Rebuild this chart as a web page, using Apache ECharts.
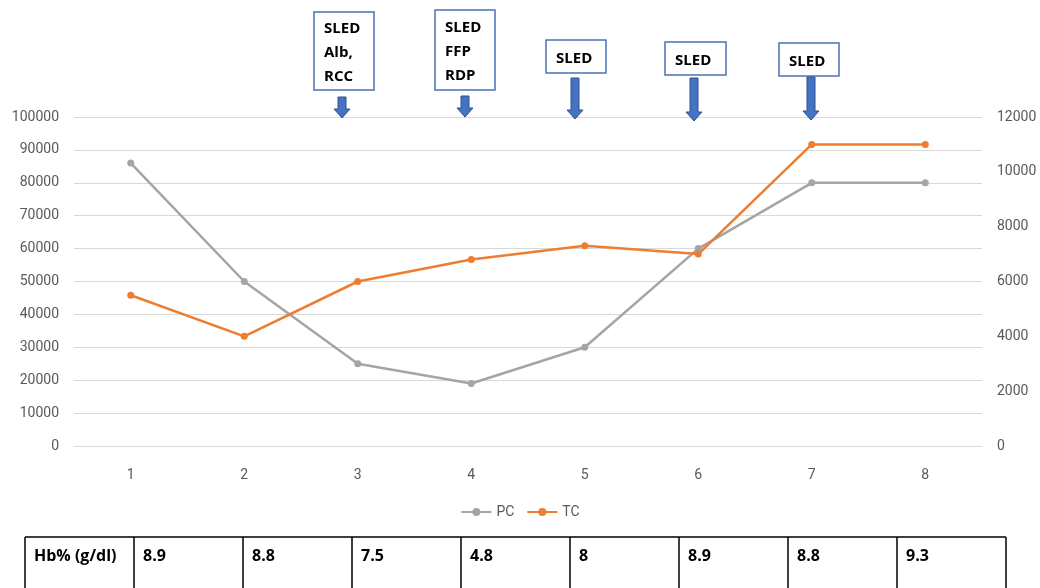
<!DOCTYPE html>
<html>
<head>
<meta charset="utf-8">
<script src="https://cdn.jsdelivr.net/npm/echarts@6/dist/echarts.min.js"></script>
<style>
  html, body { margin: 0; padding: 0; background: #fff; }
  #main { width: 1040px; height: 588px; }
</style>
</head>
<body>
<div id="main"></div>
<script>
// 数据
var categories = ['1', '2', '3', '4', '5', '6', '7', '8'];
var pcValues = [86000, 50000, 25000, 19000, 30000, 60000, 80000, 80000];
var tcValues = [5500, 4000, 6000, 6800, 7300, 7000, 11000, 11000];
var hbLabel = 'Hb% (g/dl)';
var hbValues = ['8.9', '8.8', '7.5', '4.8', '8', '8.9', '8.8', '9.3'];
var noteTexts = ['SLED\nAlb,\nRCC', 'SLED\nFFP\nRDP', 'SLED', 'SLED', 'SLED'];

var chart = echarts.init(document.getElementById('main'));

// 注释框 + 箭头 (像素位置)
var noteBoxes = [
  { x: 314, y: 12, w: 60, h: 78, ax: 342, ay0: 97, ay1: 118 },
  { x: 435, y: 10, w: 60, h: 80, ax: 465, ay0: 96, ay1: 117 },
  { x: 546, y: 40, w: 60, h: 33, ax: 575, ay0: 78, ay1: 119 },
  { x: 665, y: 42, w: 61, h: 33, ax: 694, ay0: 78, ay1: 121 },
  { x: 779, y: 43, w: 60, h: 33, ax: 811, ay0: 77, ay1: 120 }
];

var graphics = [];
noteBoxes.forEach(function (b, i) {
  graphics.push({
    type: 'rect',
    shape: { x: b.x, y: b.y, width: b.w, height: b.h },
    style: { fill: '#fff', stroke: '#4a72b8', lineWidth: 1.5 },
    z: 100
  });
  graphics.push({
    type: 'text',
    x: b.x + 10,
    y: b.y + b.h / 2 + 2,
    style: {
      text: noteTexts[i],
      font: 'bold 15px "Open Sans", sans-serif',
      fill: '#000',
      lineHeight: 24,
      verticalAlign: 'middle',
      align: 'left'
    },
    z: 101
  });
  var hx = b.ax, sw = 4, hw = 8, hh = 9;
  graphics.push({
    type: 'polygon',
    shape: {
      points: [
        [hx - sw, b.ay0], [hx + sw, b.ay0], [hx + sw, b.ay1 - hh],
        [hx + hw, b.ay1 - hh], [hx, b.ay1], [hx - hw, b.ay1 - hh],
        [hx - sw, b.ay1 - hh]
      ]
    },
    style: { fill: '#4472c4', stroke: '#2f528f', lineWidth: 1 },
    z: 100
  });
});

// 底部表格
var colX = [25, 134, 243, 352, 461, 570, 679, 788, 897, 1006];
var tableTop = 537;
graphics.push({
  type: 'line',
  shape: { x1: colX[0], y1: tableTop, x2: colX[colX.length - 1], y2: tableTop },
  style: { stroke: '#000', lineWidth: 1.5 }
});
colX.forEach(function (x) {
  graphics.push({
    type: 'line',
    shape: { x1: x, y1: tableTop, x2: x, y2: 600 },
    style: { stroke: '#000', lineWidth: 1.5 }
  });
});
var cellTexts = [hbLabel].concat(hbValues);
cellTexts.forEach(function (t, i) {
  graphics.push({
    type: 'text',
    x: colX[i] + 9,
    y: 556,
    style: {
      text: t,
      font: 'bold 16px "Open Sans", sans-serif',
      fill: '#000',
      verticalAlign: 'middle'
    }
  });
});

function plain(v) { return String(v); }

var option = {
  backgroundColor: '#fff',
  animation: false,
  grid: { left: 74, right: 58, top: 117, bottom: 142 },
  legend: {
    data: ['PC', 'TC'],
    bottom: 64,
    left: 'center',
    itemWidth: 30,
    itemHeight: 10,
    itemGap: 12,
    textStyle: { color: '#595959', fontSize: 14, fontFamily: 'Roboto' }
  },
  xAxis: {
    type: 'category',
    data: categories,
    boundaryGap: true,
    axisLine: { lineStyle: { color: '#d9d9d9' } },
    axisTick: { show: false },
    axisLabel: { color: '#595959', fontSize: 14, fontFamily: 'Roboto', margin: 22 }
  },
  yAxis: [
    {
      type: 'value',
      min: 0,
      max: 100000,
      interval: 10000,
      axisLine: { show: false },
      axisTick: { show: false },
      axisLabel: { color: '#595959', fontSize: 14, fontFamily: 'Roboto', margin: 15, formatter: plain },
      splitLine: { lineStyle: { color: '#d9d9d9' } }
    },
    {
      type: 'value',
      min: 0,
      max: 12000,
      interval: 2000,
      axisLine: { show: false },
      axisTick: { show: false },
      axisLabel: { color: '#595959', fontSize: 14, fontFamily: 'Roboto', margin: 15, formatter: plain },
      splitLine: { show: false }
    }
  ],
  series: [
    {
      name: 'PC',
      type: 'line',
      yAxisIndex: 0,
      data: pcValues,
      symbol: 'circle',
      symbolSize: 7,
      lineStyle: { width: 2.5, color: '#a5a5a5' },
      itemStyle: { color: '#a5a5a5' }
    },
    {
      name: 'TC',
      type: 'line',
      yAxisIndex: 1,
      data: tcValues,
      symbol: 'circle',
      symbolSize: 7,
      lineStyle: { width: 2.5, color: '#ed7d31' },
      itemStyle: { color: '#ed7d31' }
    }
  ],
  graphic: graphics
};

chart.setOption(option);
</script>
</body>
</html>
